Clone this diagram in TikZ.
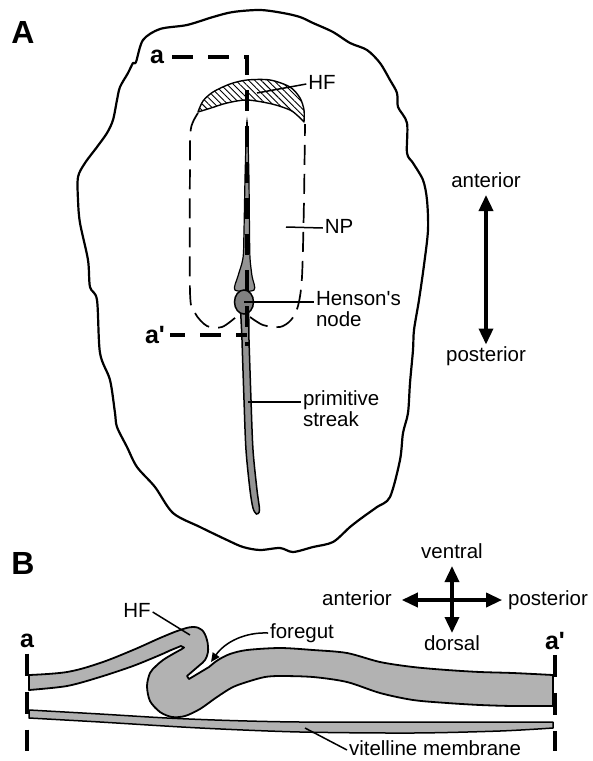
\documentclass[tikz,border=0pt]{standalone}
\usepackage{fontspec}
\setmainfont{Liberation Sans}
\usetikzlibrary{arrows.meta,shapes.geometric,patterns.meta}

\newcommand{\lbl}{\fontsize{20.5}{21}\selectfont}
\newcommand{\panelfont}{\fontsize{32}{32}\selectfont\bfseries}
\newcommand{\cutfont}{\fontsize{25}{25}\selectfont\bfseries}

\definecolor{tissue}{gray}{0.70}
\definecolor{streakgray}{gray}{0.58}
\definecolor{nodegray}{gray}{0.50}

\tikzset{
  txt/.style={font=\lbl, inner sep=0pt, outer sep=2pt, text height=15pt, text depth=4pt},
  txtml/.style={font=\lbl, inner sep=0pt, outer sep=2pt, align=left, anchor=west},
  panellbl/.style={font=\panelfont, inner sep=0pt},
  cutlbl/.style={font=\cutfont, inner sep=0pt},
  leader/.style={line width=1.5pt},
  cutline/.style={line width=4.5pt, dash pattern=on 21pt off 15pt},
  barline/.style={line width=4.5pt, dash pattern=on 22pt off 16pt},
  npborder/.style={line width=1.7pt, dash pattern=on 20pt off 9pt},
  dirarrow/.style={line width=3.5pt, {Triangle[length=16pt,width=14pt]}-{Triangle[length=16pt,width=14pt]}},
  sheet/.style={fill=tissue, draw=black, line width=1.8pt, line join=round}
}

\begin{document}
\begin{tikzpicture}[x=1pt,y=-1pt]
  \useasboundingbox (0,0) rectangle (593,761);

  % Whole embryo, dorsal view
  \node[panellbl] (pa) at (23,32) {A};
  \draw[line width=2.2pt, line join=round] plot[smooth cycle, tension=0.5] coordinates {
    (136,62) (143,40) (160,29) (187,25) (213,17) (233,12) (260,10) (283,13)
    (300,17) (313,23) (333,32) (350,43) (367,50) (380,63) (390,80) (397,93)
    (398,107) (407,123) (407,153) (413,163) (423,180) (427,200) (428,230)
    (424,265) (419,300) (414,330) (413,350) (410,383) (408,413) (403,433)
    (400,460) (390,497) (377,507) (363,517) (350,527) (333,542) (313,547)
    (293,552) (280,548) (260,550) (243,547) (227,540) (200,527) (173,513)
    (155,487) (137,467) (127,447) (117,427) (115,413) (110,380) (100,353)
    (97,300) (90,287) (88,260) (80,223) (78,200) (78,177) (85,163) (97,147)
    (107,133) (113,120) (117,100) (120,87) (128,73) (133,63)};

  % Head fold
  \draw[line width=1.4pt, line join=round,
        pattern={Lines[angle=-45,distance=4.5pt,line width=0.9pt]}]
    plot[smooth] coordinates {(198,112) (203,101) (213,92) (230,84) (247,80)
      (270,80) (290,87) (300,98) (304,110) (304,122)}
    -- plot[smooth] coordinates {(304,122) (298,116) (290,110) (272,104)
      (247,100) (227,103) (211,108) (198,112)}
    -- cycle;

  % Neural plate border
  \draw[npborder] plot[smooth] coordinates {(198,113) (191,128) (190,160)
    (190,292) (195,313) (207,326) (222,327) (236,317)};
  \draw[npborder] plot[smooth] coordinates {(250,317) (263,325) (280,327)
    (291,320) (298,306) (302,277) (304,200) (305,124)};

  % Head process and primitive streak
  \filldraw[fill=streakgray, line width=1.2pt] plot[smooth cycle, tension=0.5]
    coordinates {(247,121) (248.8,170) (249.5,230) (250,258) (252,276)
      (254,290) (235,290) (238,276) (243,258) (244,230) (245.2,170)};
  \filldraw[fill=streakgray, line width=1.5pt] plot[smooth cycle, tension=0.5]
    coordinates {(241,305) (242,340) (244,400) (246,450) (250,490) (253,508)
      (256.5,514) (259.5,510) (257,490) (253,450) (251,400) (249,340) (248,305)};
  \node[ellipse, draw, line width=1.5pt, fill=nodegray, inner sep=0pt,
        minimum width=19pt, minimum height=24pt] (hensen) at (244,302) {};

  % Section a--a'
  \node[cutlbl] (secA) at (157,57) {a};
  \node[cutlbl] (secAp) at (155,335) {a\textquotesingle};
  \coordinate (cuttop) at (247,57);
  \coordinate (cutbot) at (247,346);
  \draw[cutline] (secA.east) ++(8,0) -- (cuttop) -- (cutbot);
  \draw[cutline, dash phase=6pt] (secAp.east) ++(5,0) -- (cutbot |- secAp);

  % Labels
  \node[txt] (hflabel) at (322,84) {HF};
  \coordinate (hfpt) at (257,93);
  \draw[leader] (hfpt) -- (hflabel.west);

  \node[txt] (nplabel) at (339,228) {NP};
  \coordinate (nppt) at (286,227);
  \draw[leader] (nppt) -- (nplabel.west);

  \node[txtml] (hnlabel) at (314,309.5) {Henson\textquotesingle s\\node};
  \draw[leader] (hensen.center) -- (hensen.center -| hnlabel.west);

  \node[txtml] (pslabel) at (301,409) {primitive\\streak};
  \coordinate (pspt) at (248,402);
  \draw[leader] (pspt) -- (pspt -| pslabel.west);

  % Body axis
  \node[txt] (antA) at (486,182) {anterior};
  \node[txt] (postA) at (486,356) {posterior};
  \draw[dirarrow, shorten <=1.5pt] (antA) -- (postA);

  % Sagittal section
  \node[panellbl] (pb) at (23,563) {B};

  % vitelline membrane
  \filldraw[sheet, line width=1.5pt]
    plot[smooth] coordinates {(29,710) (100,714) (167,718) (230,720.5)
      (300,722) (413,722) (553,722)}
    -- plot[smooth] coordinates {(553,728) (500,731) (413,733) (300,732)
      (200,728) (100,722) (29,718)}
    -- cycle;

  % folded blastoderm with head fold and foregut
  \filldraw[sheet]
    plot[smooth, tension=0.6] coordinates {(29,675) (67,672) (100,663) (133,650)
      (160,638) (180,630) (193,627) (202,630) (207,640) (208,652) (205,660)
      (201,664)}
    -- (187,676) -- (189,679)
    -- plot[smooth] coordinates {(209,667) (218,660) (230,654) (247,650)
      (280,648) (313,650) (347,653) (380,662) (413,667) (447,670) (480,672)
      (513,673) (553,675)}
    -- plot[smooth] coordinates {(553,706) (513,706) (480,705) (447,703)
      (413,700) (380,693) (347,682) (313,677) (280,676) (265,677) (250,681)
      (233,687) (217,697) (200,709) (185,716) (172,717) (160,712) (150,701)
      (147,686) (150,673) (156,666) (163,660) (172,654.5) (181,649.5)}
    -- (184,647.5)
    -- plot[smooth] coordinates {(181,646) (170,650.5) (160,655) (133,666)
      (100,677) (67,686) (29,690)}
    -- cycle;

  % section ends
  \node[cutlbl] (secB) at (27,641) {a};
  \node[cutlbl] (secBp) at (555,641) {a\textquotesingle};
  \coordinate (barl) at (27,751);
  \coordinate (barr) at (555,751);
  \draw[barline, shorten <=5.5pt] (secB) -- (barl);
  \draw[barline, shorten <=5pt] (secBp) -- (barr);

  \node[txt] (hfB) at (137,612) {HF};
  \coordinate (hfBpt) at (190,635);
  \draw[leader] (hfB.east) -- (hfBpt);

  \node[txt] (foregut) at (302,633) {foregut};
  \coordinate (fgtip) at (211,662);
  \draw[leader, -{Triangle[length=9pt,width=8pt]}]
    (foregut.west) .. controls (245,632) and (225,642) .. (fgtip);

  \node[txt, anchor=west] (vmlabel) at (347,750) {vitelline membrane};
  \coordinate (vmpt) at (305,728);
  \draw[leader] (vmpt) -- (vmlabel.west);

  % Orientation in section
  \node[txt] (ventral) at (452,553) {ventral};
  \node[txt] (dorsal) at (452,645) {dorsal};
  \node[txt] (antB) at (357,600) {anterior};
  \node[txt] (postB) at (548,600) {posterior};
  \draw[dirarrow, shorten <=1.5pt, shorten >=0.5pt] (ventral) -- (dorsal);
  \draw[dirarrow, shorten <=8pt, shorten >=4pt] (antB) -- (postB);
\end{tikzpicture}
\end{document}
